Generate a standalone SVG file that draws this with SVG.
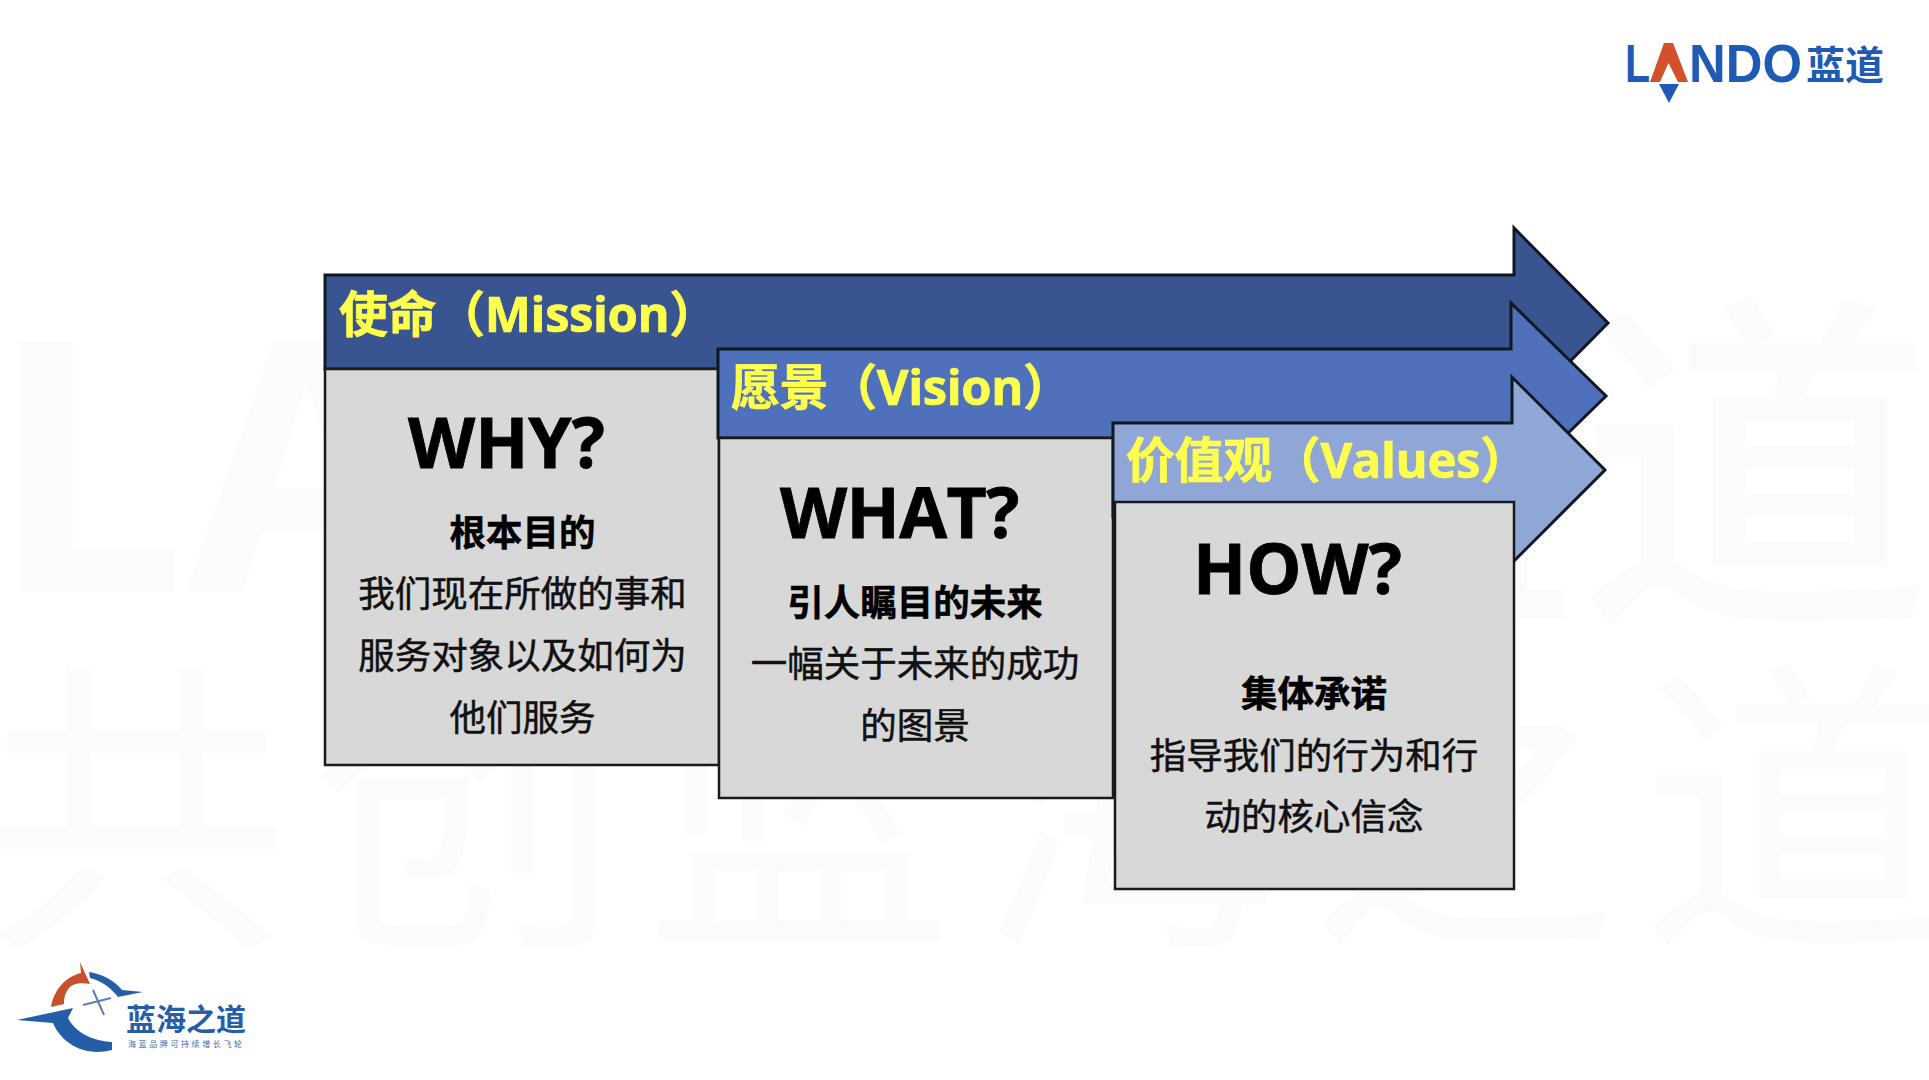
<svg xmlns="http://www.w3.org/2000/svg" width="1929" height="1080" viewBox="0 0 1929 1080">
<style>
text{font-family:"Open Sans","Noto Sans CJK SC",sans-serif}
.wm{fill:#fbfafc;font-family:"Noto Sans CJK SC",sans-serif}
.ar{stroke:#101820;stroke-width:3;stroke-linejoin:miter}
.box{fill:#d8d8d8;stroke:#1a1a1a;stroke-width:2.5}
.t{fill:#ffff4d;stroke:#ffff4d;stroke-width:.7;font-size:49px;font-weight:700;letter-spacing:-.4px}
.q{fill:#000;stroke:#000;stroke-width:.8;font-size:69.5px;font-weight:700}
.h{fill:#000;stroke:#000;stroke-width:.5;font-size:36.5px;font-weight:700;font-family:"Noto Sans CJK SC",sans-serif;text-anchor:middle}
.b{fill:#111;stroke:#111;stroke-width:.5;font-size:36.5px;font-family:"Noto Sans CJK SC",sans-serif;text-anchor:middle}
.lg{fill:#1f5bb5;font-family:"Liberation Sans",sans-serif;font-weight:700;font-size:54px}
.cn{font-family:"Noto Sans CJK SC",sans-serif;font-weight:700}
</style>
<rect width="1929" height="1080" fill="#fff"/>
<g id="watermark">
<text class="wm" x="-12" y="592" font-size="350" font-weight="700" style="font-family:'Open Sans',sans-serif">LANDO</text>
<text class="wm" x="1223" y="598" font-size="355" font-weight="500">蓝道</text>
<text class="wm" x="-20" y="925" font-size="310" letter-spacing="22">共创蓝海之道</text>
</g>
<g id="mission">
<path class="ar" fill="#385591" d="M325 275H1514V228L1608 323L1514 418V369H325Z"/>
<text class="t" x="339" y="332">使命（Mission）</text>
</g>
<g id="why">
<rect class="box" x="325" y="369" width="394" height="396"/>
<text class="q" x="408" y="468">WHY?</text>
<text class="h" x="522.5" y="546">根本目的</text>
<text class="b" x="522.5" y="607">我们现在所做的事和</text>
<text class="b" x="522.5" y="669">服务对象以及如何为</text>
<text class="b" x="522.5" y="731">他们服务</text>
</g>
<g id="vision">
<path class="ar" fill="#4f71bb" d="M718 349H1511V303L1606 396L1511 489V438H718Z"/>
<text class="t" x="731" y="405">愿景（Vision）</text>
</g>
<g id="what">
<rect class="box" x="719" y="438" width="394" height="360"/>
<text class="q" x="780" y="538" letter-spacing="-.6">WHAT?</text>
<text class="h" x="915" y="616">引人瞩目的未来</text>
<text class="b" x="915" y="677">一幅关于未来的成功</text>
<text class="b" x="915" y="739">的图景</text>
</g>
<g id="values">
<path class="ar" fill="#90a6d6" d="M1113 423H1512V377L1605 470L1512 563V517H1113Z"/>
<text class="t" x="1126" y="478">价值观（Values）</text>
</g>
<g id="how">
<rect class="box" x="1115" y="502" width="399" height="387"/>
<text class="q" x="1193" y="594">HOW?</text>
<text class="h" x="1314" y="707">集体承诺</text>
<text class="b" x="1314" y="769">指导我们的行为和行</text>
<text class="b" x="1314" y="830">动的核心信念</text>
</g>
<g id="logo-lando">
<text class="lg" x="1625" y="82" textLength="25" lengthAdjust="spacingAndGlyphs">L</text>
<path fill="#d2502a" d="M1650 82L1664 43H1673L1688 82H1678L1668.5 63L1660 82Z"/>
<path fill="#1f5bb5" d="M1659 84H1679L1669 103Z"/>
<text class="lg" x="1689" y="82" textLength="113" lengthAdjust="spacingAndGlyphs">NDO</text>
<text class="cn" x="1806" y="79" font-size="39" fill="#1f5bb5">蓝道</text>
</g>
<g id="logo-bluesea">
<path fill="#c9502c" d="M51 1007C54 990 65 977 81 973L80 962L90 984C80 982 72 984 69 988C65 993 64 998 64 1004Z"/>
<path fill="#255ea8" d="M89 972C103 974 115 981 122 990L143 992L118 997C111 988 102 981 90 978Z"/>
<path fill="#255ea8" d="M17 1020L73 1008L68 1018C75 1032 92 1041 112 1042L112 1050C85 1057 62 1044 53 1023Z"/>
<path stroke="#5a7fb0" stroke-width="2" fill="none" d="M83 1005L111 998M93 990L104 1015"/>
<text class="cn" x="126" y="1030" font-size="30" fill="#255ea8">蓝海之道</text>
<text x="128" y="1047" font-size="8" fill="#3b6bb0" letter-spacing="2.6" style="font-family:'Noto Sans CJK SC',sans-serif">海蓝品牌可持续增长飞轮</text>
</g>
</svg>
